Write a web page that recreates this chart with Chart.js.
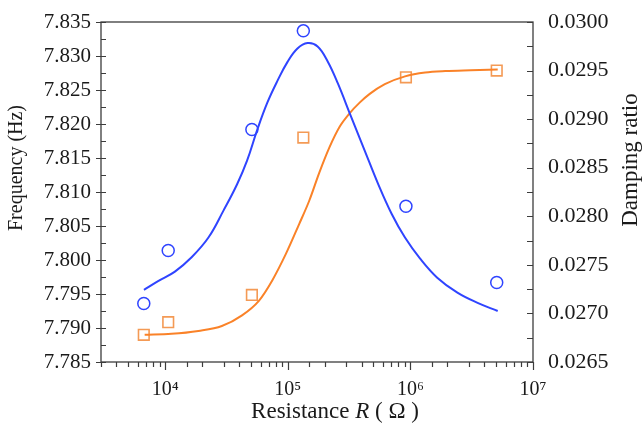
<!DOCTYPE html>
<html>
<head>
<meta charset="utf-8">
<script src="https://cdn.jsdelivr.net/npm/chart.js@4/dist/chart.umd.min.js"></script>
<style>
  html, body { margin: 0; padding: 0; background: #fff; }
  #wrap { width: 642px; height: 424px; }
</style>
</head>
<body>
<div id="wrap"><canvas id="c" width="642" height="424"></canvas></div>
<script>
// Measured points: resistance (Ω), natural frequency (Hz), damping ratio
const resistance = [6700, 10600, 51000, 134000, 920000, 5060000];
const frequency  = [7.7936, 7.8014, 7.8192, 7.8337, 7.8079, 7.7967];
const damping    = [0.02678, 0.02691, 0.02719, 0.02881, 0.02943, 0.02950];

// Fitted frequency curve
const freqFitR = [6720, 8760, 12020, 16450, 22560, 29980, 38550, 46580, 56280, 68010,
                  82170, 99310, 120000, 145000, 175200, 211700, 255800, 329600, 424100,
                  545400, 702800, 903900, 1201000, 1656000, 2418000, 3532000, 5155000];
const freqFit  = [7.7956, 7.7969, 7.7983, 7.8004, 7.8033, 7.8073, 7.8111, 7.8146, 7.8191, 7.8231,
                  7.8263, 7.8291, 7.8311, 7.8319, 7.8314, 7.8292, 7.8260, 7.8210, 7.8161,
                  7.8112, 7.8068, 7.8033, 7.8002, 7.7974, 7.7952, 7.7937, 7.7925];

// Fitted damping-ratio curve
const dampFitR = [6810, 11270, 18670, 29020, 42380, 58130, 74760, 96340, 123900, 149700,
                  180900, 218700, 264200, 319200, 385800, 466200, 619100, 903900,
                  1320000, 1927000, 3094000, 5155000];
const dampFit  = [0.02678, 0.02679, 0.02682, 0.02687, 0.02698, 0.02713, 0.02734, 0.02761,
                  0.02792, 0.02816, 0.02845, 0.02871, 0.02892, 0.02906, 0.02917, 0.02926,
                  0.02936, 0.02944, 0.02948, 0.029495, 0.029503, 0.02951];

// Axis ranges and tick steps
const xRange = [3000, 1e7];
const freqRange = [7.785, 7.835];
const freqStep = 0.005;
const dampRange = [0.0265, 0.0300];
const dampStep = 0.0005;

const BLUE = '#2f44ff';
const ORANGE = '#fa8228';
const ORANGE_MARK = '#f49a55';
const INK = '#1a1a1a';
const FRAME = '#3c3c3c';
const FAMILY = '"Liberation Serif", "Times New Roman", serif';

const pts = (xs, ys) => xs.map((x, i) => ({ x, y: ys[i] }));
const SUP = { '0': '\u2070', '1': '\u00b9', '2': '\u00b2', '3': '\u00b3', '4': '\u2074',
              '5': '\u2075', '6': '\u2076', '7': '\u2077', '8': '\u2078', '9': '\u2079' };

function isDecade(v) {
  const e = Math.log10(v);
  return Math.abs(e - Math.round(e)) < 1e-9;
}

// Fixed axis band sizes so the plot frame sits at a set place
function fixBand(size, vertical) {
  return s => {
    if (vertical) s.width = size; else s.height = size;
    s.paddingTop = 0; s.paddingBottom = 0; s.paddingLeft = 0; s.paddingRight = 0;
  };
}

// Frame, tick marks and axis titles
const decorations = {
  id: 'decorations',
  afterDraw(chart) {
    const { ctx, chartArea: a, scales } = chart;
    ctx.save();
    ctx.strokeStyle = FRAME;
    ctx.lineWidth = 1.3;
    ctx.strokeRect(a.left, a.top, a.right - a.left, a.bottom - a.top);

    ctx.lineWidth = 1.2;
    ctx.beginPath();
    // bottom axis: outward ticks, longer at decades
    scales.x.ticks.forEach(t => {
      const px = Math.round(scales.x.getPixelForValue(t.value)) + 0.5;
      const len = isDecade(t.value) ? 8 : 5;
      ctx.moveTo(px, a.bottom);
      ctx.lineTo(px, a.bottom + len);
    });
    // left axis: inward ticks at half steps, majors also outward
    const fy = scales.y;
    const nF = Math.round((freqRange[1] - freqRange[0]) / (freqStep / 2));
    for (let i = 0; i <= nF; i++) {
      const v = freqRange[0] + i * freqStep / 2;
      const py = Math.round(fy.getPixelForValue(v)) + 0.5;
      ctx.moveTo(a.left, py);
      ctx.lineTo(a.left + 5, py);
      if (i % 2 === 0) {
        ctx.moveTo(a.left, py);
        ctx.lineTo(a.left - 5, py);
      }
    }
    // right axis: inward ticks at half steps
    const dy = scales.y1;
    const nD = Math.round((dampRange[1] - dampRange[0]) / (dampStep / 2));
    for (let i = 0; i <= nD; i++) {
      const v = dampRange[0] + i * dampStep / 2;
      const py = Math.round(dy.getPixelForValue(v)) + 0.5;
      ctx.moveTo(a.right, py);
      ctx.lineTo(a.right - 6, py);
    }
    ctx.stroke();

    // axis titles
    ctx.fillStyle = INK;
    ctx.textAlign = 'center';
    ctx.textBaseline = 'middle';

    ctx.save();
    ctx.font = '20px ' + FAMILY;
    ctx.translate(17, 168);
    ctx.rotate(-Math.PI / 2);
    ctx.fillText('Frequency (Hz)', 0, 0);
    ctx.restore();

    ctx.save();
    ctx.font = '23px ' + FAMILY;
    ctx.translate(631, 160);
    ctx.rotate(-Math.PI / 2);
    ctx.fillText('Damping ratio', 0, 0);
    ctx.restore();

    // "Resistance R ( Ω )" with italic R
    const parts = [
      { s: 'Resistance ', f: '23px ' + FAMILY },
      { s: 'R', f: 'italic 23px ' + FAMILY },
      { s: ' ( \u03a9 )', f: '23px ' + FAMILY }
    ];
    let total = 0;
    parts.forEach(p => { ctx.font = p.f; p.w = ctx.measureText(p.s).width; total += p.w; });
    let x0 = 335 - total / 2;
    ctx.textAlign = 'left';
    ctx.textBaseline = 'alphabetic';
    parts.forEach(p => { ctx.font = p.f; ctx.fillText(p.s, x0, 418); x0 += p.w; });
    ctx.restore();
  }
};

new Chart(document.getElementById('c'), {
  type: 'line',
  data: {
    datasets: [
      {
        label: 'Frequency fit',
        data: pts(freqFitR, freqFit),
        yAxisID: 'y',
        borderColor: BLUE,
        borderWidth: 2,
        pointRadius: 0,
        fill: false,
        tension: 0.4
      },
      {
        label: 'Damping fit',
        data: pts(dampFitR, dampFit),
        yAxisID: 'y1',
        borderColor: ORANGE,
        borderWidth: 2,
        pointRadius: 0,
        fill: false,
        cubicInterpolationMode: 'monotone'
      },
      {
        label: 'Frequency',
        data: pts(resistance, frequency),
        yAxisID: 'y',
        showLine: false,
        pointStyle: 'circle',
        pointRadius: 6,
        pointBorderWidth: 1.5,
        pointBorderColor: BLUE,
        pointBackgroundColor: 'rgba(0,0,0,0)'
      },
      {
        label: 'Damping ratio',
        data: pts(resistance, damping),
        yAxisID: 'y1',
        showLine: false,
        pointStyle: 'rect',
        pointRadius: 7.5,
        pointBorderWidth: 1.6,
        pointBorderColor: ORANGE_MARK,
        pointBackgroundColor: 'rgba(0,0,0,0)'
      }
    ]
  },
  options: {
    responsive: false,
    animation: false,
    layout: { padding: { top: 22, left: 0, right: 0, bottom: 0 } },
    plugins: { legend: { display: false }, tooltip: { enabled: false } },
    scales: {
      x: {
        type: 'logarithmic',
        position: 'bottom',
        min: xRange[0],
        max: xRange[1],
        grid: { display: false, drawTicks: false },
        border: { display: false },
        ticks: {
          autoSkip: false,
          maxRotation: 0,
          padding: 16,
          color: INK,
          font: { family: FAMILY, size: 20 },
          callback: v => isDecade(v)
            ? '10' + String(Math.round(Math.log10(v))).split('').map(c => SUP[c]).join('')
            : ''
        },
        afterFit: fixBand(62, false)
      },
      y: {
        position: 'left',
        min: freqRange[0],
        max: freqRange[1],
        grid: { display: false, drawTicks: false },
        border: { display: false },
        ticks: {
          stepSize: freqStep,
          padding: 10,
          color: INK,
          font: { family: FAMILY, size: 21 },
          callback: v => v.toFixed(3)
        },
        afterFit: fixBand(101, true)
      },
      y1: {
        position: 'right',
        min: dampRange[0],
        max: dampRange[1],
        grid: { display: false, drawTicks: false },
        border: { display: false },
        ticks: {
          stepSize: dampStep,
          padding: 15,
          color: INK,
          font: { family: FAMILY, size: 22 },
          callback: v => v.toFixed(4)
        },
        afterFit: fixBand(109, true)
      }
    }
  },
  plugins: [decorations]
});
</script>
</body>
</html>
